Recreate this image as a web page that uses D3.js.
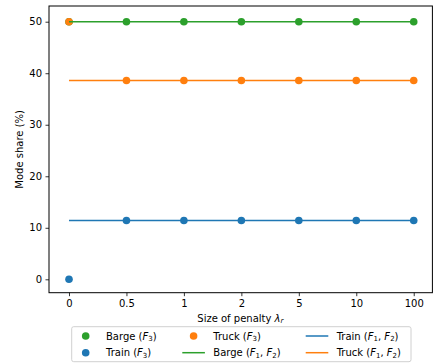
<!DOCTYPE html>
<html><head><meta charset="utf-8">
<script src="https://cdn.jsdelivr.net/npm/d3@7"></script>
<style>body{margin:0;background:#fff}svg{display:block;font-family:"DejaVu Sans",sans-serif}</style>
</head><body><svg id="c" width="433" height="363"></svg>
<script>
const categories = ["0","0.5","1","2","5","10","100"];
const bargeF3 = [50,50,50,50,50,50,50];
const truckF3 = [50,38.6,38.6,38.6,38.6,38.6,38.6];
const trainF3 = [0,11.4,11.4,11.4,11.4,11.4,11.4];
const bargeF12 = [50,50,50,50,50,50,50];
const truckF12 = [38.6,38.6,38.6,38.6,38.6,38.6,38.6];
const trainF12 = [11.4,11.4,11.4,11.4,11.4,11.4,11.4];
const yTicks = [0,10,20,30,40,50];

const C = {green:"#2ca02c", orange:"#ff7f0e", blue:"#1f77b4"};
const L = 49, R = 432.4, T = 6, B = 292.7;
const svg = d3.select("#c");
const x = d3.scaleLinear().domain([-0.348, 6.325]).range([L, R]);
const y = d3.scaleLinear().domain([-2.6, 53.05]).range([B, T]);

const line = d3.line().x((d,i)=>x(i)).y(d=>y(d));
const scat = [[bargeF3,C.green],[trainF3,C.blue],[truckF3,C.orange]];
scat.forEach(([arr,col])=>{
  svg.append("g").selectAll("circle").data(arr).join("circle")
    .attr("cx",(d,i)=>x(i)).attr("cy",d=>y(d)).attr("r",3.8).attr("fill",col);
});
[[bargeF12,C.green],[trainF12,C.blue],[truckF12,C.orange]].forEach(([arr,col])=>{
  svg.append("path").datum(arr).attr("d",line).attr("fill","none").attr("stroke",col).attr("stroke-width",1.5);
});

svg.append("rect").attr("x",L).attr("y",T).attr("width",R-L).attr("height",B-T)
  .attr("fill","none").attr("stroke","#000").attr("stroke-width",1);

const xa = svg.append("g").attr("transform",`translate(0,${B})`)
  .call(d3.axisBottom(x).tickValues(d3.range(categories.length)).tickFormat(i=>categories[i]).tickSize(3.5).tickPadding(3.5));
const ya = svg.append("g").attr("transform",`translate(${L},0)`)
  .call(d3.axisLeft(y).tickValues(yTicks).tickSize(3.5).tickPadding(3.5));
[xa,ya].forEach(g=>{
  g.select(".domain").remove();
  g.selectAll("text").attr("font-size",10).attr("font-family","DejaVu Sans").attr("fill","#000");
  g.selectAll("line").attr("stroke","#000").attr("stroke-width",0.8);
});

const xl = svg.append("text").attr("x",(L+431.7)/2).attr("y",321.5).attr("text-anchor","middle").attr("font-size",10);
xl.append("tspan").text("Size of penalty ");
xl.append("tspan").attr("font-style","italic").text("λ");
xl.append("tspan").attr("font-style","italic").attr("font-size",7).attr("dy",1.8).text("r");
svg.append("text").attr("transform",`translate(23,${(T+B)/2}) rotate(-90)`).attr("text-anchor","middle")
  .attr("font-size",10).text("Mode share (%)");

const lg = svg.append("g");
lg.append("rect").attr("x",71.7).attr("y",326.7).attr("width",339.3).attr("height",35).attr("rx",2)
  .attr("fill","#fff").attr("fill-opacity",0.8).attr("stroke","#d0d0d0").attr("stroke-width",1);
const items = [
  {name:"Barge",sub:"(F3)",type:"dot",col:C.green, mx:85.7, tx:106, yy:336},
  {name:"Train",sub:"(F3)",type:"dot",col:C.blue, mx:85.7, tx:106, yy:352.7},
  {name:"Truck",sub:"(F3)",type:"dot",col:C.orange, mx:193.6, tx:213.3, yy:336},
  {name:"Barge",sub:"(F12)",type:"line",col:C.green, mx:193.6, tx:213.3, yy:352.7},
  {name:"Train",sub:"(F12)",type:"line",col:C.blue, mx:317, tx:336.7, yy:336},
  {name:"Truck",sub:"(F12)",type:"line",col:C.orange, mx:317, tx:336.7, yy:352.7}
];
items.forEach(it=>{
  if(it.type==="dot") lg.append("circle").attr("cx",it.mx).attr("cy",it.yy).attr("r",3.8).attr("fill",it.col);
  else lg.append("line").attr("x1",it.mx-11.3).attr("x2",it.mx+11.3).attr("y1",it.yy).attr("y2",it.yy).attr("stroke",it.col).attr("stroke-width",1.5);
  const t = lg.append("text").attr("x",it.tx).attr("y",it.yy+3.6).attr("font-size",10);
  t.append("tspan").text(it.name+" (");
  const sub = (s,dy)=>t.append("tspan").attr("font-size",7).attr("dy",dy).text(s);
  t.append("tspan").attr("font-style","italic").text("F");
  if(it.sub==="(F3)"){
    sub("3",1.8); t.append("tspan").attr("dy",-1.8).text(")");
  } else {
    sub("1",1.8); t.append("tspan").attr("dy",-1.8).text(", ");
    t.append("tspan").attr("font-style","italic").text("F");
    sub("2",1.8); t.append("tspan").attr("dy",-1.8).text(")");
  }
});
</script></body></html>
